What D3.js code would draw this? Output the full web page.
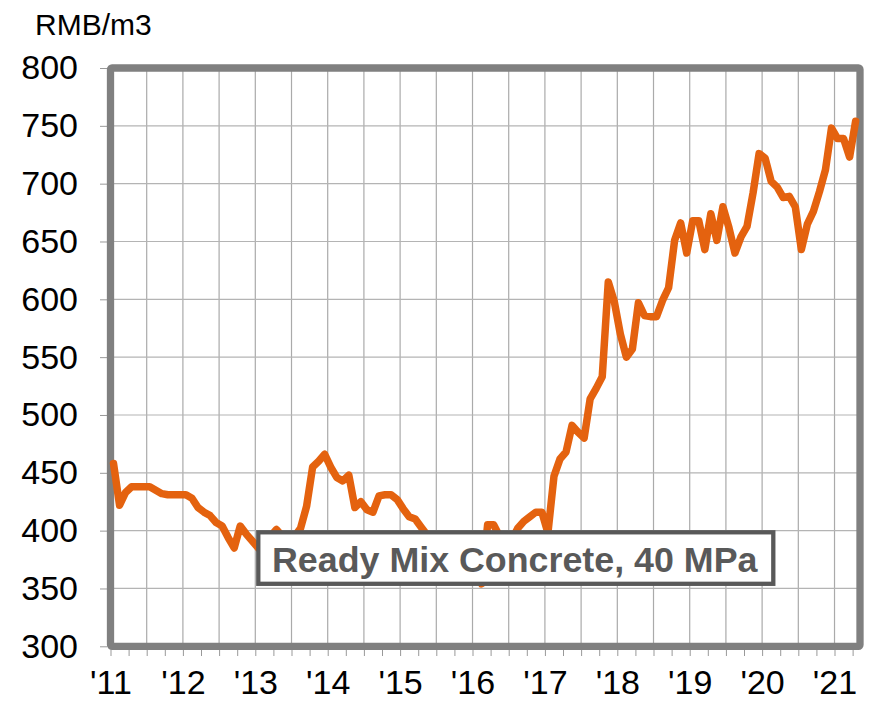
<!DOCTYPE html>
<html>
<head>
<meta charset="utf-8">
<script src="https://cdn.jsdelivr.net/npm/d3@7"></script>
<style>
  body { margin: 0; background: #fff; }
  svg { display: block; font-family: "Liberation Sans", Arial, sans-serif; }
</style>
</head>
<body>
<svg width="874" height="703"></svg>
<script>
// monthly price, Jan 2011 .. Apr 2021 (RMB/m3)
var startYear = 2011;
var prices = [
  458, 422, 433, 438, 438, 438, 438, 435, 432, 431, 431, 431,   // 2011
  431, 428, 420, 416, 413, 407, 404, 394, 385, 404, 397, 391,   // 2012
  385, 390, 395, 401, 395, 392, 395, 402, 421, 455, 460, 466,   // 2013
  455, 446, 443, 448, 420, 425, 418, 416, 430, 431, 431, 427,   // 2014
  419, 412, 410, 403, 396, 395, 392, 390, 385, 380, 375, 372,   // 2015
  368, 354, 405, 405, 395, 390, 392, 402, 408, 412, 416, 416,   // 2016
  398, 447, 462, 468, 491, 485, 480, 514, 523, 533, 615, 598,   // 2017
  570, 550, 557, 597, 586, 585, 585, 599, 610, 651, 666, 640,   // 2018
  668, 668, 643, 674, 651, 680, 662, 640, 654, 663, 692, 726,   // 2019
  722, 702, 697, 688, 689, 680, 643, 665, 676, 693, 712, 748,   // 2020
  739, 739, 723, 754                                            // 2021
];
var yearLabels = ["'11", "'12", "'13", "'14", "'15", "'16", "'17", "'18", "'19", "'20", "'21"];
var yTicks = [300, 350, 400, 450, 500, 550, 600, 650, 700, 750, 800];
var unitLabel = 'RMB/m3';
var seriesName = 'Ready Mix Concrete, 40 MPa';

var svg = d3.select('svg');
var plotL = 110.5, plotR = 860, plotT = 68, plotB = 646.3;

var x = d3.scaleLinear().domain([startYear, startYear + 10.352]).range([plotL, plotR]);
var y = d3.scaleLinear().domain([300, 800]).range([plotB, plotT]);

// grid
var halfYears = d3.range(startYear + 0.5, startYear + 10.352, 0.5);
svg.append('g').selectAll('line').data(halfYears).enter().append('line')
  .attr('x1', function(d) { return x(d); }).attr('x2', function(d) { return x(d); })
  .attr('y1', plotT).attr('y2', plotB)
  .attr('stroke', '#aaaaaa').attr('stroke-width', 1.2);
svg.append('g').selectAll('line').data(yTicks.slice(1, -1)).enter().append('line')
  .attr('x1', plotL).attr('x2', plotR)
  .attr('y1', function(d) { return y(d); }).attr('y2', function(d) { return y(d); })
  .attr('stroke', '#b4b4b4').attr('stroke-width', 1.2);

// y axis
var yAxis = svg.append('g').attr('transform', 'translate(107,0)')
  .call(d3.axisLeft(y).tickValues(yTicks).tickSize(7).tickPadding(22));
yAxis.select('.domain').remove();
yAxis.selectAll('line').attr('stroke', '#999999');
yAxis.selectAll('text').attr('font-size', 34).attr('fill', '#000')
  .attr('font-family', '"Liberation Sans", Arial, sans-serif');

// x axis (quarter ticks, year labels)
var quarters = d3.range(startYear, startYear + 10.352, 0.25);
var xAxis = svg.append('g').attr('transform', 'translate(0,650)')
  .call(d3.axisBottom(x).tickValues(quarters).tickSize(6).tickPadding(14)
    .tickFormat(function(d) { return Number.isInteger(d) ? yearLabels[d - startYear] : ''; }));
xAxis.select('.domain').remove();
xAxis.selectAll('line').attr('stroke', '#999999');
xAxis.selectAll('text').attr('font-size', 34).attr('fill', '#000')
  .attr('font-family', '"Liberation Sans", Arial, sans-serif');

// frame
svg.append('rect').attr('x', plotL).attr('y', plotT)
  .attr('width', plotR - plotL).attr('height', plotB - plotT)
  .attr('fill', 'none').attr('stroke', '#808080').attr('stroke-width', 7.3)
  .attr('rx', 1.5);

// unit
svg.append('text').attr('x', 35).attr('y', 35).attr('font-size', 30)
  .attr('fill', '#000').text(unitLabel);

// series line
var line = d3.line()
  .x(function(d, i) { return x(startYear + (i + 0.5) / 12); })
  .y(function(d) { return y(d); });
svg.append('path').datum(prices).attr('d', line)
  .attr('fill', 'none').attr('stroke', '#E4620F').attr('stroke-width', 7.5)
  .attr('stroke-linejoin', 'round').attr('stroke-linecap', 'round');

// label box
svg.append('rect').attr('x', 258.3).attr('y', 532.3).attr('width', 515).attr('height', 51.5)
  .attr('fill', '#fff').attr('stroke', '#595959').attr('stroke-width', 4.3);
svg.append('text').attr('x', 272).attr('y', 571.5).attr('font-size', 35.8)
  .attr('font-weight', 'bold').attr('fill', '#595959').text(seriesName);
</script>
</body>
</html>
